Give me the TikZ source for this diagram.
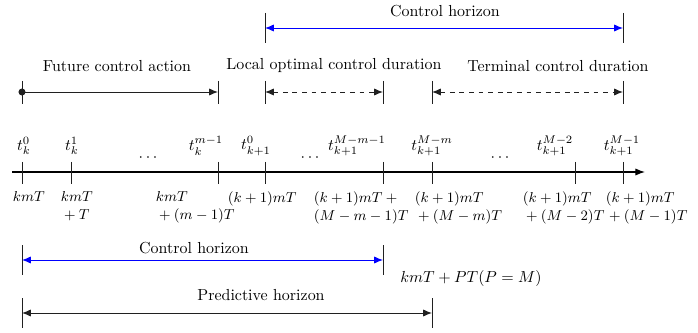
\documentclass[tikz,border=0pt]{standalone}
\usepackage{tikz}
\usetikzlibrary{positioning,calc,arrows.meta}
\definecolor{Horizon}{HTML}{0000FF}
\definecolor{Dark}{HTML}{202020}

\tikzset{
	bar/.style={draw=Dark,line width=0.6pt},
	span/.style={draw=Dark,line width=0.6pt,
		{Latex[length=5.5pt,width=4.5pt]}-{Latex[length=5.5pt,width=4.5pt]}},
	upper/.style={inner sep=0.5pt},
	lower/.style={inner sep=1pt,anchor=north west,align=left,font=\small}
}

\begin{document}
\begin{tikzpicture}[x=0.022cm,y=-0.022cm]
	\useasboundingbox (0,0) rectangle (698,333);
	
	% time axis
	\coordinate (start) at (12,172);
	\coordinate (end) at (645,172);
	\draw[line width=0.7pt,-{Latex[length=6pt,width=4.5pt]}] (start) -- (end);
	
	\coordinate (a0) at (22,172);
	\coordinate (a1) at (71,172);
	\coordinate (a2) at (218,172);
	\coordinate (a3) at (265,172);
	\coordinate (a4) at (383,172);
	\coordinate (a5) at (432,172);
	\coordinate (a6) at (575,172);
	\coordinate (a7) at (623,172);
	\foreach \p in {a0,a1,a2,a3,a4,a5,a6,a7}
		\draw[bar] ($(\p)+(0,-10)$) -- ($(\p)+(0,12)$);
	
	% instants above the axis
	\node[upper] (t0) at (24,146) {$t_k^0$};
	\node[upper] (t1) at (72,146) {$t_k^1$};
	\node[upper] (t2) at (206,146) {$t_k^{m-1}$};
	\node[upper] (t3) at (256,146) {$t_{k+1}^0$};
	\node[upper] (t4) at (357,146) {$t_{k+1}^{M-m-1}$};
	\node[upper] (t5) at (432,146) {$t_{k+1}^{M-m}$};
	\node[upper] (t6) at (555,146) {$t_{k+1}^{M-2}$};
	\node[upper] (t7) at (622,146) {$t_{k+1}^{M-1}$};
	\node[inner sep=0.5pt] (dots1) at (148,158) {$\cdots$};
	\node[inner sep=0.5pt] (dots2) at (310,158) {$\cdots$};
	\node[inner sep=0.5pt] (dots3) at (500,158) {$\cdots$};
	
	% times below the axis
	\node[lower] (k0) at (11,190) {$kmT$};
	\node[lower] (k1) at (59,190) {$kmT$\\${}+T$};
	\node[lower] (k2) at (154,190) {$kmT$\\${}+(m-1)T$};
	\node[lower] (k3) at (226,190) {$(k+1)mT$};
	\node[lower] (k4) at (312,190) {$(k+1)mT+{}$\\$(M-m-1)T$};
	\node[lower] (k5) at (413,190) {$(k+1)mT$\\${}+(M-m)T$};
	\node[lower] (k6) at (521,190) {$(k+1)mT$\\${}+(M-2)T$};
	\node[lower] (k7) at (604,190) {$(k+1)mT$\\${}+(M-1)T$};
	
	% upper control horizon
	\coordinate (ch1) at (265,28);
	\coordinate (ch2) at (623,28);
	\draw[bar] ($(ch1)+(0,-15)$) -- ($(ch1)+(0,15)$);
	\draw[bar] ($(ch2)+(0,-15)$) -- ($(ch2)+(0,15)$);
	\draw[span,draw=Horizon,
		{Latex[length=5.5pt,width=4.5pt,color=Horizon]}-{Latex[length=5.5pt,width=4.5pt,color=Horizon]}]
		(ch1) -- (ch2);
	\node (chlabel) at (445,11) {Control horizon};
	
	% control actions
	\coordinate (fa1) at (22,92);
	\coordinate (fa2) at (218,92);
	\coordinate (lo1) at (265,92);
	\coordinate (lo2) at (383,92);
	\coordinate (te1) at (432,92);
	\coordinate (te2) at (623,92);
	\foreach \p in {fa1,fa2,lo1,lo2,te1,te2}
		\draw[bar] ($(\p)+(0,-11)$) -- ($(\p)+(0,12)$);
	\fill[Dark] (fa1) circle (2.2pt);
	\draw[bar,-{Latex[length=5.5pt,width=4.5pt]}] (fa1) -- (fa2);
	\draw[span,dashed] (lo1) -- (lo2);
	\draw[span,dashed] (te1) -- (te2);
	\node (falabel) at (117,66) {Future control action};
	\node (lolabel) at (334,66) {Local optimal control duration};
	\node (telabel) at (558,66) {Terminal control duration};
	
	% lower horizons
	\coordinate (lc1) at (22,260);
	\coordinate (lc2) at (383,260);
	\coordinate (ph1) at (22,313);
	\coordinate (ph2) at (432,313);
	\foreach \p in {lc1,lc2,ph1,ph2}
		\draw[bar] ($(\p)+(0,-15)$) -- ($(\p)+(0,15)$);
	\draw[span,draw=Horizon,
		{Latex[length=5.5pt,width=4.5pt,color=Horizon]}-{Latex[length=5.5pt,width=4.5pt,color=Horizon]}]
		(lc1) -- (lc2);
	\draw[span] (ph1) -- (ph2);
	\node (lclabel) at (194,248) {Control horizon};
	\node (phlabel) at (261,295) {Predictive horizon};
	\node (final) at (471,279) {$kmT+PT(P=M)$};
\end{tikzpicture}
\end{document}
